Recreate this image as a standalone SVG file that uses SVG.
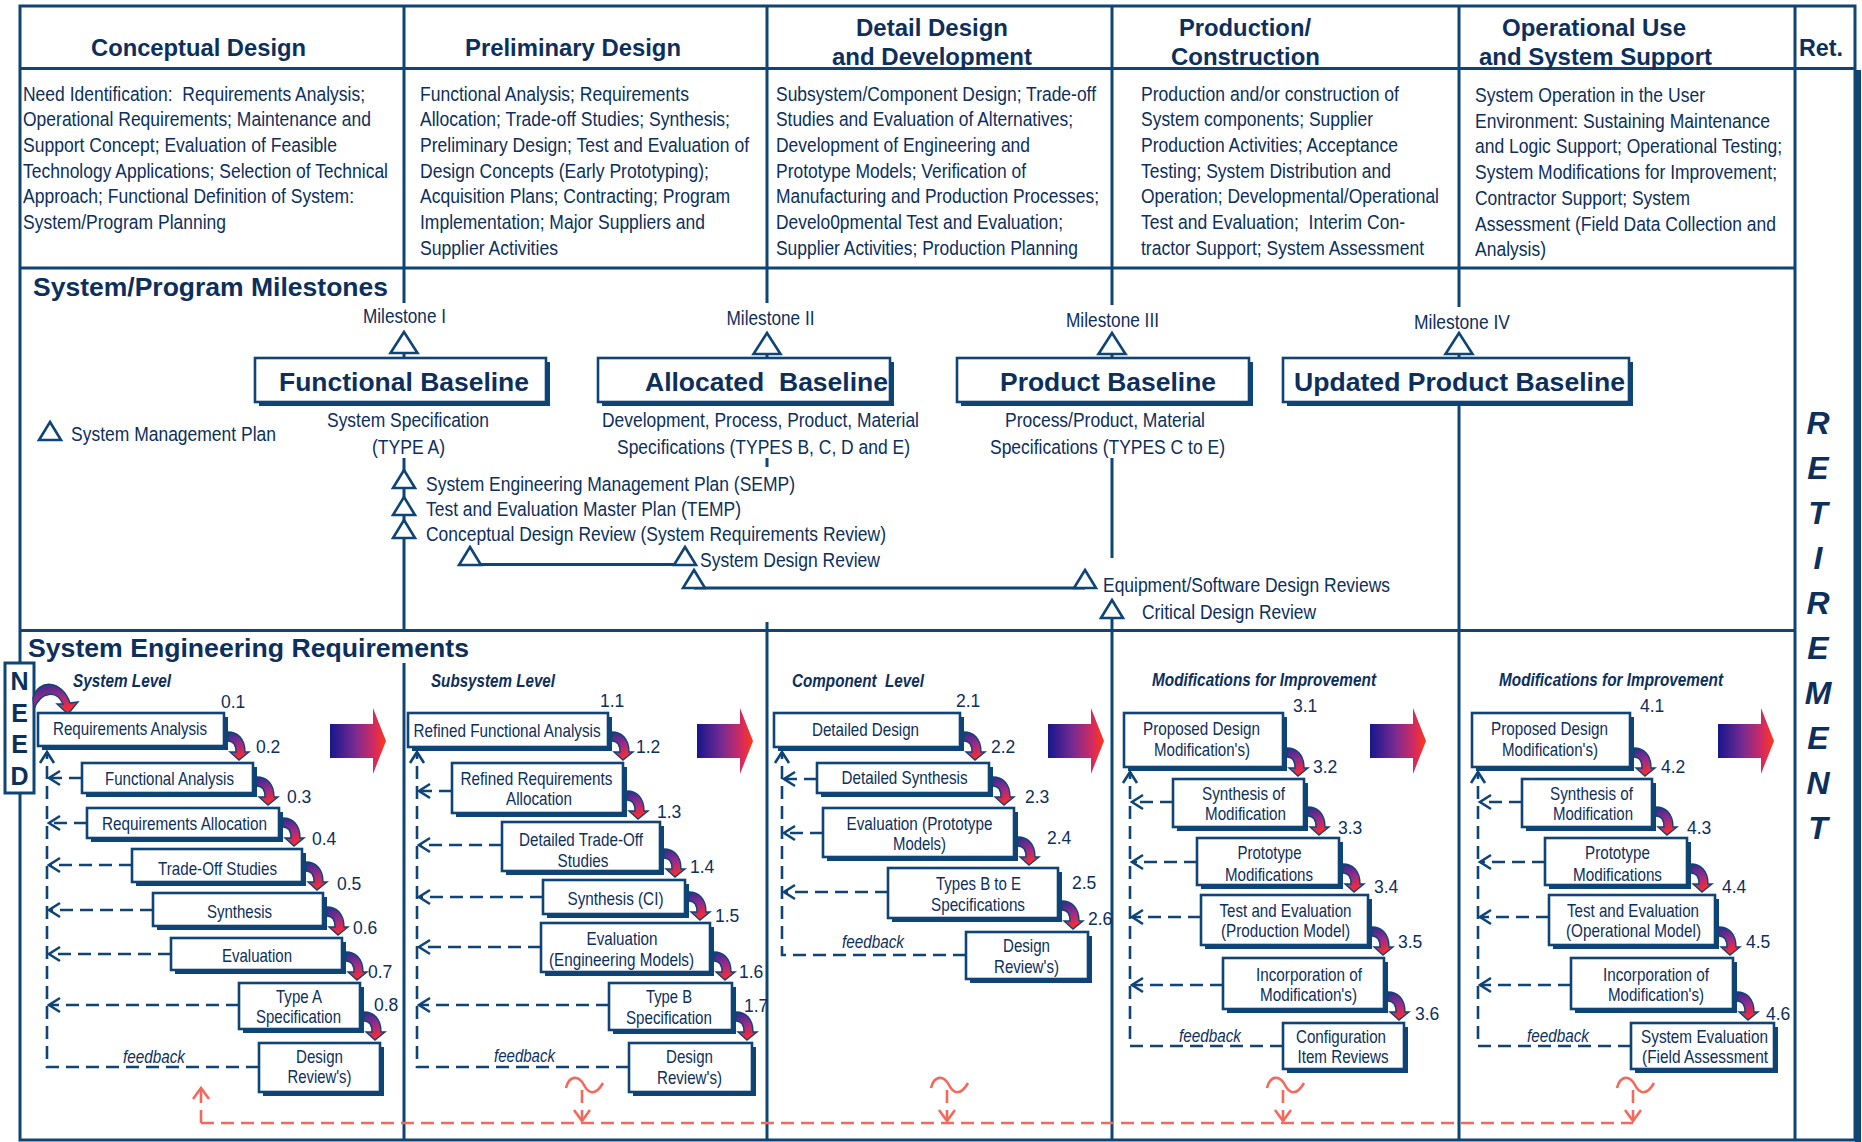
<svg xmlns="http://www.w3.org/2000/svg" xmlns:xlink="http://www.w3.org/1999/xlink" width="1862" height="1142" viewBox="0 0 1862 1142">
<style>
.ln{stroke:#0f4476;stroke-width:3;fill:none}
.h{font-family:'Liberation Sans',Arial,sans-serif;font-weight:bold;font-size:24px;fill:#0c2f5c;text-anchor:middle}
.sec{font-family:'Liberation Sans',Arial,sans-serif;font-weight:bold;font-size:26px;fill:#0c2f5c}
.d{font-family:'Liberation Sans Narrow','Arial Narrow','Liberation Sans',Arial,sans-serif;font-size:20.5px;fill:#0c2f5c}
.m{font-family:'Liberation Sans Narrow','Arial Narrow','Liberation Sans',Arial,sans-serif;font-size:20.5px;fill:#0c2f5c}
.mc{text-anchor:middle}
.bl{font-family:'Liberation Sans',Arial,sans-serif;font-weight:bold;font-size:26px;fill:#0c2f5c;text-anchor:middle}
.bt{font-family:'Liberation Sans Narrow','Arial Narrow','Liberation Sans',Arial,sans-serif;font-size:18.5px;fill:#0c2f5c;text-anchor:middle}
.num{font-family:'Liberation Sans Narrow','Arial Narrow','Liberation Sans',Arial,sans-serif;font-size:17.5px;fill:#0c2f5c}
.lv{font-family:'Liberation Sans Narrow','Arial Narrow','Liberation Sans',Arial,sans-serif;font-size:18px;font-weight:bold;font-style:italic;fill:#0c2f5c}
.fb{font-family:'Liberation Sans Narrow','Arial Narrow','Liberation Sans',Arial,sans-serif;font-size:17.5px;font-style:italic;fill:#0c2f5c;text-anchor:middle}
.sh{fill:#0f4476}
.bx{fill:#fff;stroke:#0f4476;stroke-width:2.6}
.tri{fill:#fff;stroke:#0f4476;stroke-width:2.6;stroke-linejoin:miter}
.fd{stroke:#0f4476;stroke-width:2.6;fill:none;stroke-dasharray:13 7}
.rd{stroke:#f4695c;stroke-width:2.6;fill:none;stroke-dasharray:13 7}
.sq{stroke:#f4695c;stroke-width:2.6;fill:none}
.ret{font-family:'Liberation Sans',Arial,sans-serif;font-weight:bold;font-style:italic;font-size:32px;fill:#0c2f5c;text-anchor:middle}
.need{font-family:'Liberation Sans',Arial,sans-serif;font-weight:bold;font-size:25px;fill:#0c2f5c;text-anchor:middle}
</style>
<defs>
<linearGradient id="gc" x1="0" y1="0" x2="0.35" y2="1"><stop offset="0" stop-color="#2d2a8f"/><stop offset="0.55" stop-color="#9a2a8a"/><stop offset="1" stop-color="#ff2b2b"/></linearGradient>
<linearGradient id="gb" x1="0" y1="0" x2="1" y2="0"><stop offset="0" stop-color="#16168c"/><stop offset="0.45" stop-color="#7a2a92"/><stop offset="0.8" stop-color="#d62a5e"/><stop offset="1" stop-color="#ff3a10"/></linearGradient>
<path id="curl" d="M-11,-28 C-2,-28 6,-22 6,-8 L10,-8 L0,0 L-9,-8 L-3,-8 C-3,-15 -6,-19 -11,-19 Z" fill="url(#gc)" stroke="#0f4476" stroke-width="1.4"/>
<path id="big" d="M0,-17 H43 V-33 L56,0 L43,33 V17 H0 Z" fill="url(#gb)"/>
<path id="tl" d="M0,0 L13.5,21 L-13.5,21 Z" class="tri"/>
<path id="ts" d="M0,0 L11,18 L-11,18 Z" class="tri"/>
<path id="sqg" d="M-16,1088 C-13,1076 -4,1074 2,1085 C6,1093 13,1097 21,1083" class="sq"/>
<marker id="ah" markerUnits="userSpaceOnUse" markerWidth="16" markerHeight="18" viewBox="-13 -9 16 18" refX="0" refY="0" orient="auto"><path d="M-11,-7 L0,0 L-11,7" fill="none" stroke="#0f4476" stroke-width="2.6"/></marker>
<marker id="ar" markerUnits="userSpaceOnUse" markerWidth="16" markerHeight="18" viewBox="-13 -9 16 18" refX="0" refY="0" orient="auto"><path d="M-11,-8 L0,0 L-11,8" fill="none" stroke="#f4695c" stroke-width="2.6"/></marker>
</defs>
<rect x="0" y="0" width="1862" height="1142" fill="#fff"/>

<g id="frame">
<rect x="20" y="6" width="1835" height="1134" class="ln"/>
<rect x="1855" y="70" width="6" height="1072" fill="#0f4476"/>
<path class="ln" d="M20,68.5 H1855 M20,268 H1795 M20,630.5 H1795"/>
<path class="ln" d="M404,6 V303 M404,458 V630 M404,663 V1140"/>
<path class="ln" d="M767,6 V303 M767,458 V467 M767,622 V1140"/>
<path class="ln" d="M1112,6 V305 M1112,458 V558 M1112,618 V1140"/>
<path class="ln" d="M1459,6 V307 M1459,404 V1140"/>
<path class="ln" d="M1795,6 V1140"/>
<path class="ln" d="M404,353 V358 M767,354 V358 M1112,354 V358 M1459,354 V358"/>
</g>

<g id="headers">
<text class="h" x="198.5" y="56" textLength="215" lengthAdjust="spacingAndGlyphs">Conceptual Design</text>
<text class="h" x="573" y="56" textLength="216" lengthAdjust="spacingAndGlyphs">Preliminary Design</text>
<text class="h" x="932" y="36" textLength="152" lengthAdjust="spacingAndGlyphs">Detail Design</text>
<text class="h" x="932" y="65" textLength="200" lengthAdjust="spacingAndGlyphs">and Development</text>
<text class="h" x="1245" y="36" textLength="132" lengthAdjust="spacingAndGlyphs">Production/</text>
<text class="h" x="1245.5" y="65" textLength="149" lengthAdjust="spacingAndGlyphs">Construction</text>
<text class="h" x="1594" y="36" textLength="184" lengthAdjust="spacingAndGlyphs">Operational Use</text>
<text class="h" x="1595.5" y="65" textLength="233" lengthAdjust="spacingAndGlyphs">and System Support</text>
<text class="h" x="1821" y="56" textLength="44" lengthAdjust="spacingAndGlyphs">Ret.</text>
</g>

<g id="descriptions">
<text class="d" x="23" y="100.5" textLength="342" lengthAdjust="spacingAndGlyphs">Need Identification:&#160; Requirements Analysis;</text>
<text class="d" x="23" y="126.2" textLength="348" lengthAdjust="spacingAndGlyphs">Operational Requirements; Maintenance and</text>
<text class="d" x="23" y="151.9" textLength="314" lengthAdjust="spacingAndGlyphs">Support Concept; Evaluation of Feasible</text>
<text class="d" x="23" y="177.6" textLength="365" lengthAdjust="spacingAndGlyphs">Technology Applications; Selection of Technical</text>
<text class="d" x="23" y="203.3" textLength="331" lengthAdjust="spacingAndGlyphs">Approach; Functional Definition of System:</text>
<text class="d" x="23" y="229" textLength="203" lengthAdjust="spacingAndGlyphs">System/Program Planning</text>

<text class="d" x="420" y="100.5" textLength="269" lengthAdjust="spacingAndGlyphs">Functional Analysis; Requirements</text>
<text class="d" x="420" y="126.2" textLength="310" lengthAdjust="spacingAndGlyphs">Allocation; Trade-off Studies; Synthesis;</text>
<text class="d" x="420" y="151.9" textLength="329" lengthAdjust="spacingAndGlyphs">Preliminary Design; Test and Evaluation of</text>
<text class="d" x="420" y="177.6" textLength="289" lengthAdjust="spacingAndGlyphs">Design Concepts (Early Prototyping);</text>
<text class="d" x="420" y="203.3" textLength="310" lengthAdjust="spacingAndGlyphs">Acquisition Plans; Contracting; Program</text>
<text class="d" x="420" y="229" textLength="285" lengthAdjust="spacingAndGlyphs">Implementation; Major Suppliers and</text>
<text class="d" x="420" y="254.7" textLength="138" lengthAdjust="spacingAndGlyphs">Supplier Activities</text>

<text class="d" x="776" y="100.5" textLength="320" lengthAdjust="spacingAndGlyphs">Subsystem/Component Design; Trade-off</text>
<text class="d" x="776" y="126.2" textLength="297" lengthAdjust="spacingAndGlyphs">Studies and Evaluation of Alternatives;</text>
<text class="d" x="776" y="151.9" textLength="254" lengthAdjust="spacingAndGlyphs">Development of Engineering and</text>
<text class="d" x="776" y="177.6" textLength="250" lengthAdjust="spacingAndGlyphs">Prototype Models; Verification of</text>
<text class="d" x="776" y="203.3" textLength="323" lengthAdjust="spacingAndGlyphs">Manufacturing and Production Processes;</text>
<text class="d" x="776" y="229" textLength="287" lengthAdjust="spacingAndGlyphs">Develo0pmental Test and Evaluation;</text>
<text class="d" x="776" y="254.7" textLength="302" lengthAdjust="spacingAndGlyphs">Supplier Activities; Production Planning</text>

<text class="d" x="1141" y="100.5" textLength="258" lengthAdjust="spacingAndGlyphs">Production and/or construction of</text>
<text class="d" x="1141" y="126.2" textLength="232" lengthAdjust="spacingAndGlyphs">System components; Supplier</text>
<text class="d" x="1141" y="151.9" textLength="257" lengthAdjust="spacingAndGlyphs">Production Activities; Acceptance</text>
<text class="d" x="1141" y="177.6" textLength="250" lengthAdjust="spacingAndGlyphs">Testing; System Distribution and</text>
<text class="d" x="1141" y="203.3" textLength="298" lengthAdjust="spacingAndGlyphs">Operation; Developmental/Operational</text>
<text class="d" x="1141" y="229" textLength="264" lengthAdjust="spacingAndGlyphs">Test and Evaluation;&#160; Interim Con-</text>
<text class="d" x="1141" y="254.7" textLength="283" lengthAdjust="spacingAndGlyphs">tractor Support; System Assessment</text>

<text class="d" x="1475" y="102" textLength="230" lengthAdjust="spacingAndGlyphs">System Operation in the User</text>
<text class="d" x="1475" y="127.7" textLength="295" lengthAdjust="spacingAndGlyphs">Environment: Sustaining Maintenance</text>
<text class="d" x="1475" y="153.4" textLength="307" lengthAdjust="spacingAndGlyphs">and Logic Support; Operational Testing;</text>
<text class="d" x="1475" y="179.1" textLength="302" lengthAdjust="spacingAndGlyphs">System Modifications for Improvement;</text>
<text class="d" x="1475" y="204.8" textLength="215" lengthAdjust="spacingAndGlyphs">Contractor Support; System</text>
<text class="d" x="1475" y="230.5" textLength="301" lengthAdjust="spacingAndGlyphs">Assessment (Field Data Collection and</text>
<text class="d" x="1475" y="256.2" textLength="71" lengthAdjust="spacingAndGlyphs">Analysis)</text>
</g>

<g id="milestones">
<text class="sec" x="33" y="296" textLength="355" lengthAdjust="spacingAndGlyphs">System/Program Milestones</text>
<text class="m mc" x="404.5" y="323" textLength="83" lengthAdjust="spacingAndGlyphs">Milestone I</text>
<text class="m mc" x="770.5" y="325" textLength="88" lengthAdjust="spacingAndGlyphs">Milestone II</text>
<text class="m mc" x="1112.5" y="327" textLength="93" lengthAdjust="spacingAndGlyphs">Milestone III</text>
<text class="m mc" x="1462" y="329" textLength="96" lengthAdjust="spacingAndGlyphs">Milestone IV</text>
<use href="#tl" x="404" y="332"/>
<use href="#tl" x="767" y="333"/>
<use href="#tl" x="1112" y="333"/>
<use href="#tl" x="1459" y="333"/>
</g>

<g id="functional-baseline">
<rect class="sh" x="259" y="362" width="291" height="44"/>
<rect class="bx" x="255" y="358" width="291" height="44"/>
<text class="bl" x="404" y="391" textLength="250" lengthAdjust="spacingAndGlyphs">Functional Baseline</text>
<text class="m mc" x="408" y="426.5" textLength="162" lengthAdjust="spacingAndGlyphs">System Specification</text>
<text class="m mc" x="408.5" y="453.5" textLength="73" lengthAdjust="spacingAndGlyphs">(TYPE A)</text>
</g>
<g id="allocated-baseline">
<rect class="sh" x="602" y="362" width="292" height="44"/>
<rect class="bx" x="598" y="358" width="292" height="44"/>
<text class="bl" x="766.5" y="391" textLength="243" lengthAdjust="spacingAndGlyphs">Allocated&#160; Baseline</text>
<text class="m mc" x="760.5" y="426.5" textLength="317" lengthAdjust="spacingAndGlyphs">Development, Process, Product, Material</text>
<text class="m mc" x="763.5" y="453.5" textLength="293" lengthAdjust="spacingAndGlyphs">Specifications (TYPES B, C, D and E)</text>
</g>
<g id="product-baseline">
<rect class="sh" x="961" y="362" width="292" height="44"/>
<rect class="bx" x="957" y="358" width="292" height="44"/>
<text class="bl" x="1108" y="391" textLength="216" lengthAdjust="spacingAndGlyphs">Product Baseline</text>
<text class="m mc" x="1105" y="426.5" textLength="200" lengthAdjust="spacingAndGlyphs">Process/Product, Material</text>
<text class="m mc" x="1107.5" y="453.5" textLength="235" lengthAdjust="spacingAndGlyphs">Specifications (TYPES C to E)</text>
</g>
<g id="updated-product-baseline">
<rect class="sh" x="1287" y="362" width="346" height="44"/>
<rect class="bx" x="1283" y="358" width="346" height="44"/>
<text class="bl" x="1459.5" y="391" textLength="331" lengthAdjust="spacingAndGlyphs">Updated Product Baseline</text>
</g>

<g id="reviews">
<path class="ln" d="M470,564.5 H685 M694,588 H1085"/>
<use href="#ts" x="50" y="422"/>
<text class="m" x="71" y="440.5" textLength="205" lengthAdjust="spacingAndGlyphs">System Management Plan</text>
<use href="#ts" x="404" y="470"/>
<text class="m" x="426" y="490.5" textLength="369" lengthAdjust="spacingAndGlyphs">System Engineering Management Plan (SEMP)</text>
<use href="#ts" x="404" y="497"/>
<text class="m" x="426" y="515.5" textLength="315" lengthAdjust="spacingAndGlyphs">Test and Evaluation Master Plan (TEMP)</text>
<use href="#ts" x="404" y="520"/>
<text class="m" x="426" y="540.5" textLength="460" lengthAdjust="spacingAndGlyphs">Conceptual Design Review (System Requirements Review)</text>
<use href="#ts" x="470" y="547"/>
<use href="#ts" x="685" y="547"/>
<text class="m" x="700" y="566.5" textLength="180" lengthAdjust="spacingAndGlyphs">System Design Review</text>
<use href="#ts" x="694" y="570"/>
<use href="#ts" x="1085" y="570"/>
<text class="m" x="1103" y="591.5" textLength="287" lengthAdjust="spacingAndGlyphs">Equipment/Software Design Reviews</text>
<use href="#ts" x="1112" y="600"/>
<text class="m" x="1142" y="618.5" textLength="174" lengthAdjust="spacingAndGlyphs">Critical Design Review</text>
</g>

<g id="retirement">
<text class="ret" x="1818" y="434">R</text>
<text class="ret" x="1818" y="479">E</text>
<text class="ret" x="1818" y="524">T</text>
<text class="ret" x="1818" y="569">I</text>
<text class="ret" x="1818" y="614">R</text>
<text class="ret" x="1818" y="659">E</text>
<text class="ret" x="1818" y="704">M</text>
<text class="ret" x="1818" y="749">E</text>
<text class="ret" x="1818" y="794">N</text>
<text class="ret" x="1818" y="839">T</text>
</g>

<g id="ser-title">
<text class="sec" x="28" y="657" textLength="441" lengthAdjust="spacingAndGlyphs">System Engineering Requirements</text>
<text class="lv" x="73" y="687" textLength="98" lengthAdjust="spacingAndGlyphs">System Level</text>
<text class="lv" x="431" y="687" textLength="124" lengthAdjust="spacingAndGlyphs">Subsystem Level</text>
<text class="lv" x="792" y="687" textLength="132" lengthAdjust="spacingAndGlyphs">Component&#160; Level</text>
<text class="lv" x="1152" y="686" textLength="224" lengthAdjust="spacingAndGlyphs">Modifications for Improvement</text>
<text class="lv" x="1499" y="686" textLength="224" lengthAdjust="spacingAndGlyphs">Modifications for Improvement</text>
</g>

<g id="need">
<rect x="5" y="663" width="29" height="130" fill="#fff" stroke="#0f4476" stroke-width="3"/>
<text class="need" x="19.5" y="690">N</text>
<text class="need" x="19.5" y="722">E</text>
<text class="need" x="19.5" y="753">E</text>
<text class="need" x="19.5" y="785">D</text>
</g>

<g id="connectors">
<path d="M33,698 C38,679 62,679 70,703 L78,702 L68,714 L57,704 L63,704 C57,690 41,691 34,709 Z" fill="url(#gc)" stroke="#0f4476" stroke-width="1.4"/>
<!-- feedback col1 -->
<path class="fd" d="M259,1067 H47 V752" marker-end="url(#ah)"/>
<path class="fd" d="M82,778 H49" marker-end="url(#ah)"/>
<path class="fd" d="M87,823 H49" marker-end="url(#ah)"/>
<path class="fd" d="M132,865 H49" marker-end="url(#ah)"/>
<path class="fd" d="M153,910 H49" marker-end="url(#ah)"/>
<path class="fd" d="M171,954 H49" marker-end="url(#ah)"/>
<path class="fd" d="M239,1005 H49" marker-end="url(#ah)"/>
<!-- col2 -->
<path class="fd" d="M629,1067 H417 V752" marker-end="url(#ah)"/>
<path class="fd" d="M452,791 H419" marker-end="url(#ah)"/>
<path class="fd" d="M502,845 H419" marker-end="url(#ah)"/>
<path class="fd" d="M543,897 H419" marker-end="url(#ah)"/>
<path class="fd" d="M541,947 H419" marker-end="url(#ah)"/>
<path class="fd" d="M609,1005 H419" marker-end="url(#ah)"/>
<!-- col3 -->
<path class="fd" d="M966,955 H782 V752" marker-end="url(#ah)"/>
<path class="fd" d="M817,779 H784" marker-end="url(#ah)"/>
<path class="fd" d="M823,833 H784" marker-end="url(#ah)"/>
<path class="fd" d="M888,892 H784" marker-end="url(#ah)"/>
<!-- col4 -->
<path class="fd" d="M1283,1046 H1130 V772" marker-end="url(#ah)"/>
<path class="fd" d="M1173,802 H1132" marker-end="url(#ah)"/>
<path class="fd" d="M1197,862 H1132" marker-end="url(#ah)"/>
<path class="fd" d="M1201,917 H1132" marker-end="url(#ah)"/>
<path class="fd" d="M1223,985 H1132" marker-end="url(#ah)"/>
<!-- col5 -->
<path class="fd" d="M1631,1046 H1478 V772" marker-end="url(#ah)"/>
<path class="fd" d="M1522,802 H1480" marker-end="url(#ah)"/>
<path class="fd" d="M1545,862 H1480" marker-end="url(#ah)"/>
<path class="fd" d="M1549,917 H1480" marker-end="url(#ah)"/>
<path class="fd" d="M1571,985 H1480" marker-end="url(#ah)"/>
<!-- red global feedback -->
<path class="rd" d="M201,1123 H1633"/>
<path class="rd" d="M201,1123 V1088" marker-end="url(#ar)"/>
<path class="rd" d="M582,1090 V1121" marker-end="url(#ar)"/>
<path class="rd" d="M947,1090 V1121" marker-end="url(#ar)"/>
<path class="rd" d="M1283,1090 V1121" marker-end="url(#ar)"/>
<path class="rd" d="M1633,1090 V1121" marker-end="url(#ar)"/>
<use href="#sqg" x="582"/>
<use href="#sqg" x="947"/>
<use href="#sqg" x="1283"/>
<use href="#sqg" x="1633"/>
<!-- big arrows -->
<use href="#big" x="330" y="741"/>
<use href="#big" x="697" y="741"/>
<use href="#big" x="1048" y="741"/>
<use href="#big" x="1370" y="741"/>
<use href="#big" x="1718" y="741"/>
</g>

<g id="col1">
<g id="n01"><rect class="sh" x="42" y="717" width="186" height="33"/><rect class="bx" x="38" y="713" width="186" height="33"/><text class="bt" x="130" y="735" textLength="154" lengthAdjust="spacingAndGlyphs">Requirements Analysis</text></g>
<g id="n02"><rect class="sh" x="86" y="767" width="171" height="30"/><rect class="bx" x="82" y="763" width="171" height="30"/><text class="bt" x="169.5" y="785" textLength="129" lengthAdjust="spacingAndGlyphs">Functional Analysis</text></g>
<g id="n03"><rect class="sh" x="91" y="812" width="192" height="30"/><rect class="bx" x="87" y="808" width="192" height="30"/><text class="bt" x="184.5" y="830" textLength="165" lengthAdjust="spacingAndGlyphs">Requirements Allocation</text></g>
<g id="n04"><rect class="sh" x="136" y="853" width="170" height="33"/><rect class="bx" x="132" y="849" width="170" height="33"/><text class="bt" x="217.5" y="875" textLength="119" lengthAdjust="spacingAndGlyphs">Trade-Off Studies</text></g>
<g id="n05"><rect class="sh" x="157" y="897" width="170" height="33"/><rect class="bx" x="153" y="893" width="170" height="33"/><text class="bt" x="239.5" y="918" textLength="65" lengthAdjust="spacingAndGlyphs">Synthesis</text></g>
<g id="n06"><rect class="sh" x="175" y="942" width="171" height="32"/><rect class="bx" x="171" y="938" width="171" height="32"/><text class="bt" x="257" y="962" textLength="70" lengthAdjust="spacingAndGlyphs">Evaluation</text></g>
<g id="n07"><rect class="sh" x="243" y="987" width="121" height="46"/><rect class="bx" x="239" y="983" width="121" height="46"/><text class="bt" x="299" y="1003" textLength="46" lengthAdjust="spacingAndGlyphs">Type A</text><text class="bt" x="298.5" y="1023" textLength="85" lengthAdjust="spacingAndGlyphs">Specification</text></g>
<g id="n08"><rect class="sh" x="263" y="1047" width="121" height="49"/><rect class="bx" x="259" y="1043" width="121" height="49"/><text class="bt" x="319.5" y="1063" textLength="47" lengthAdjust="spacingAndGlyphs">Design</text><text class="bt" x="319.5" y="1083" textLength="64" lengthAdjust="spacingAndGlyphs">Review's)</text></g>
<text class="num" x="221" y="708">0.1</text><text class="num" x="256" y="753">0.2</text><text class="num" x="287" y="803">0.3</text><text class="num" x="312" y="845">0.4</text>
<text class="num" x="337" y="890">0.5</text><text class="num" x="353" y="934">0.6</text><text class="num" x="368" y="978">0.7</text><text class="num" x="374" y="1011">0.8</text>
<text class="fb" x="154" y="1063" textLength="62" lengthAdjust="spacingAndGlyphs">feedback</text>
<use href="#curl" x="239" y="760"/><use href="#curl" x="268" y="805"/><use href="#curl" x="294" y="846"/><use href="#curl" x="317" y="890"/>
<use href="#curl" x="338" y="935"/><use href="#curl" x="357" y="980"/><use href="#curl" x="375" y="1040"/>
</g>

<g id="col2">
<g id="n11"><rect class="sh" x="412" y="717" width="200" height="34"/><rect class="bx" x="408" y="713" width="200" height="34"/><text class="bt" x="507" y="737" textLength="187" lengthAdjust="spacingAndGlyphs">Refined Functional Analysis</text></g>
<g id="n12"><rect class="sh" x="456" y="767" width="171" height="50"/><rect class="bx" x="452" y="763" width="171" height="50"/><text class="bt" x="536.5" y="785" textLength="152" lengthAdjust="spacingAndGlyphs">Refined Requirements</text><text class="bt" x="539" y="805" textLength="66" lengthAdjust="spacingAndGlyphs">Allocation</text></g>
<g id="n13"><rect class="sh" x="506" y="826" width="158" height="49"/><rect class="bx" x="502" y="822" width="158" height="49"/><text class="bt" x="581" y="846" textLength="124" lengthAdjust="spacingAndGlyphs">Detailed Trade-Off</text><text class="bt" x="583" y="867" textLength="51" lengthAdjust="spacingAndGlyphs">Studies</text></g>
<g id="n14"><rect class="sh" x="547" y="884" width="142" height="34"/><rect class="bx" x="543" y="880" width="142" height="34"/><text class="bt" x="615.5" y="905" textLength="96" lengthAdjust="spacingAndGlyphs">Synthesis (CI)</text></g>
<g id="n15"><rect class="sh" x="545" y="927" width="169" height="49"/><rect class="bx" x="541" y="923" width="169" height="49"/><text class="bt" x="622" y="945" textLength="71" lengthAdjust="spacingAndGlyphs">Evaluation</text><text class="bt" x="621.5" y="966" textLength="145" lengthAdjust="spacingAndGlyphs">(Engineering Models)</text></g>
<g id="n16"><rect class="sh" x="613" y="987" width="123" height="47"/><rect class="bx" x="609" y="983" width="123" height="47"/><text class="bt" x="669" y="1003" textLength="46" lengthAdjust="spacingAndGlyphs">Type B</text><text class="bt" x="669" y="1024" textLength="86" lengthAdjust="spacingAndGlyphs">Specification</text></g>
<g id="n17"><rect class="sh" x="633" y="1047" width="123" height="49"/><rect class="bx" x="629" y="1043" width="123" height="49"/><text class="bt" x="689.5" y="1063" textLength="47" lengthAdjust="spacingAndGlyphs">Design</text><text class="bt" x="689.5" y="1084" textLength="65" lengthAdjust="spacingAndGlyphs">Review's)</text></g>
<text class="num" x="600" y="707">1.1</text><text class="num" x="636" y="753">1.2</text><text class="num" x="657" y="818">1.3</text><text class="num" x="690" y="873">1.4</text>
<text class="num" x="715" y="922">1.5</text><text class="num" x="739" y="978">1.6</text><text class="num" x="744" y="1012">1.7</text>
<text class="fb" x="524.5" y="1062" textLength="61" lengthAdjust="spacingAndGlyphs">feedback</text>
<use href="#curl" x="623" y="760"/><use href="#curl" x="638" y="819"/><use href="#curl" x="675" y="877"/>
<use href="#curl" x="700" y="920"/><use href="#curl" x="725" y="980"/><use href="#curl" x="747" y="1040"/>
</g>

<g id="col3">
<g id="n21"><rect class="sh" x="778" y="717" width="186" height="34"/><rect class="bx" x="774" y="713" width="186" height="34"/><text class="bt" x="865.5" y="736" textLength="107" lengthAdjust="spacingAndGlyphs">Detailed Design</text></g>
<g id="n22"><rect class="sh" x="821" y="767" width="172" height="30"/><rect class="bx" x="817" y="763" width="172" height="30"/><text class="bt" x="904.5" y="784" textLength="126" lengthAdjust="spacingAndGlyphs">Detailed Synthesis</text></g>
<g id="n23"><rect class="sh" x="827" y="812" width="191" height="49"/><rect class="bx" x="823" y="808" width="191" height="49"/><text class="bt" x="919.5" y="830" textLength="146" lengthAdjust="spacingAndGlyphs">Evaluation (Prototype</text><text class="bt" x="919.5" y="850" textLength="53" lengthAdjust="spacingAndGlyphs">Models)</text></g>
<g id="n24"><rect class="sh" x="892" y="872" width="170" height="50"/><rect class="bx" x="888" y="868" width="170" height="50"/><text class="bt" x="978.5" y="890" textLength="85" lengthAdjust="spacingAndGlyphs">Types B to E</text><text class="bt" x="978" y="911" textLength="94" lengthAdjust="spacingAndGlyphs">Specifications</text></g>
<g id="n25"><rect class="sh" x="970" y="936" width="122" height="47"/><rect class="bx" x="966" y="932" width="122" height="47"/><text class="bt" x="1026.5" y="952" textLength="47" lengthAdjust="spacingAndGlyphs">Design</text><text class="bt" x="1026.5" y="973" textLength="65" lengthAdjust="spacingAndGlyphs">Review's)</text></g>
<text class="num" x="956" y="707">2.1</text><text class="num" x="991" y="753">2.2</text><text class="num" x="1025" y="803">2.3</text>
<text class="num" x="1047" y="844">2.4</text><text class="num" x="1072" y="889">2.5</text><text class="num" x="1088" y="925">2.6</text>
<text class="fb" x="873" y="948" textLength="62" lengthAdjust="spacingAndGlyphs">feedback</text>
<use href="#curl" x="975" y="760"/><use href="#curl" x="1004" y="805"/><use href="#curl" x="1029" y="865"/><use href="#curl" x="1073" y="929"/>
</g>

<g id="col4">
<g id="n31"><rect class="sh" x="1128" y="717" width="159" height="54"/><rect class="bx" x="1124" y="713" width="159" height="54"/><text class="bt" x="1201.5" y="735" textLength="117" lengthAdjust="spacingAndGlyphs">Proposed Design</text><text class="bt" x="1202" y="756" textLength="96" lengthAdjust="spacingAndGlyphs">Modification's)</text></g>
<g id="n32"><rect class="sh" x="1177" y="783" width="131" height="48"/><rect class="bx" x="1173" y="779" width="131" height="48"/><text class="bt" x="1243.5" y="800" textLength="83" lengthAdjust="spacingAndGlyphs">Synthesis of</text><text class="bt" x="1245.5" y="820" textLength="81" lengthAdjust="spacingAndGlyphs">Modification</text></g>
<g id="n33"><rect class="sh" x="1201" y="842" width="142" height="47"/><rect class="bx" x="1197" y="838" width="142" height="47"/><text class="bt" x="1269.5" y="859" textLength="64" lengthAdjust="spacingAndGlyphs">Prototype</text><text class="bt" x="1269" y="881" textLength="88" lengthAdjust="spacingAndGlyphs">Modifications</text></g>
<g id="n34"><rect class="sh" x="1205" y="899" width="167" height="50"/><rect class="bx" x="1201" y="895" width="167" height="50"/><text class="bt" x="1285.5" y="917" textLength="132" lengthAdjust="spacingAndGlyphs">Test and Evaluation</text><text class="bt" x="1285.5" y="937" textLength="129" lengthAdjust="spacingAndGlyphs">(Production Model)</text></g>
<g id="n35"><rect class="sh" x="1227" y="962" width="161" height="51"/><rect class="bx" x="1223" y="958" width="161" height="51"/><text class="bt" x="1309" y="981" textLength="106" lengthAdjust="spacingAndGlyphs">Incorporation of</text><text class="bt" x="1308.5" y="1001" textLength="97" lengthAdjust="spacingAndGlyphs">Modification's)</text></g>
<g id="n36"><rect class="sh" x="1287" y="1027" width="121" height="46"/><rect class="bx" x="1283" y="1023" width="121" height="46"/><text class="bt" x="1341" y="1043" textLength="90" lengthAdjust="spacingAndGlyphs">Configuration</text><text class="bt" x="1343" y="1063" textLength="91" lengthAdjust="spacingAndGlyphs">Item Reviews</text></g>
<text class="num" x="1293" y="712">3.1</text><text class="num" x="1313" y="773">3.2</text><text class="num" x="1338" y="834">3.3</text>
<text class="num" x="1374" y="893">3.4</text><text class="num" x="1398" y="948">3.5</text><text class="num" x="1415" y="1020">3.6</text>
<text class="fb" x="1210" y="1042" textLength="62" lengthAdjust="spacingAndGlyphs">feedback</text>
<use href="#curl" x="1298" y="776"/><use href="#curl" x="1319" y="835"/><use href="#curl" x="1354" y="892"/>
<use href="#curl" x="1383" y="955"/><use href="#curl" x="1399" y="1020"/>
</g>

<g id="col5">
<g id="n41"><rect class="sh" x="1476" y="717" width="158" height="54"/><rect class="bx" x="1472" y="713" width="158" height="54"/><text class="bt" x="1549.5" y="735" textLength="117" lengthAdjust="spacingAndGlyphs">Proposed Design</text><text class="bt" x="1550" y="756" textLength="96" lengthAdjust="spacingAndGlyphs">Modification's)</text></g>
<g id="n42"><rect class="sh" x="1526" y="783" width="130" height="48"/><rect class="bx" x="1522" y="779" width="130" height="48"/><text class="bt" x="1591.5" y="800" textLength="83" lengthAdjust="spacingAndGlyphs">Synthesis of</text><text class="bt" x="1593" y="820" textLength="80" lengthAdjust="spacingAndGlyphs">Modification</text></g>
<g id="n43"><rect class="sh" x="1549" y="842" width="142" height="47"/><rect class="bx" x="1545" y="838" width="142" height="47"/><text class="bt" x="1617.5" y="859" textLength="65" lengthAdjust="spacingAndGlyphs">Prototype</text><text class="bt" x="1617.5" y="881" textLength="89" lengthAdjust="spacingAndGlyphs">Modifications</text></g>
<g id="n44"><rect class="sh" x="1553" y="899" width="166" height="50"/><rect class="bx" x="1549" y="895" width="166" height="50"/><text class="bt" x="1633" y="917" textLength="132" lengthAdjust="spacingAndGlyphs">Test and Evaluation</text><text class="bt" x="1633.5" y="937" textLength="135" lengthAdjust="spacingAndGlyphs">(Operational Model)</text></g>
<g id="n45"><rect class="sh" x="1575" y="962" width="162" height="51"/><rect class="bx" x="1571" y="958" width="162" height="51"/><text class="bt" x="1656" y="981" textLength="106" lengthAdjust="spacingAndGlyphs">Incorporation of</text><text class="bt" x="1656" y="1001" textLength="96" lengthAdjust="spacingAndGlyphs">Modification's)</text></g>
<g id="n46"><rect class="sh" x="1635" y="1027" width="143" height="46"/><rect class="bx" x="1631" y="1023" width="143" height="46"/><text class="bt" x="1704.5" y="1043" textLength="127" lengthAdjust="spacingAndGlyphs">System Evaluation</text><text class="bt" x="1705" y="1063" textLength="126" lengthAdjust="spacingAndGlyphs">(Field Assessment</text></g>
<text class="num" x="1640" y="712">4.1</text><text class="num" x="1661" y="773">4.2</text><text class="num" x="1687" y="834">4.3</text>
<text class="num" x="1722" y="893">4.4</text><text class="num" x="1746" y="948">4.5</text><text class="num" x="1766" y="1020">4.6</text>
<text class="fb" x="1558" y="1042" textLength="62" lengthAdjust="spacingAndGlyphs">feedback</text>
<use href="#curl" x="1645" y="776"/><use href="#curl" x="1667" y="835"/><use href="#curl" x="1702" y="892"/>
<use href="#curl" x="1730" y="955"/><use href="#curl" x="1748" y="1020"/>
</g>
</svg>
